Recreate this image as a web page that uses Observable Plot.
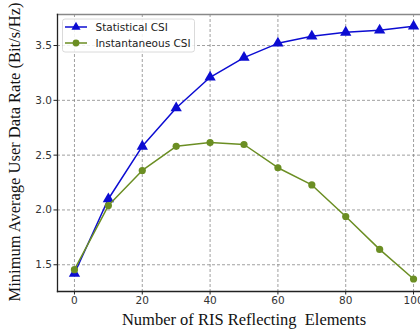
<!DOCTYPE html>
<html><head><meta charset="utf-8">
<script src="https://cdn.jsdelivr.net/npm/d3@7"></script>
<script src="https://cdn.jsdelivr.net/npm/@observablehq/plot@0.6"></script>
<style>
html,body{margin:0;padding:0;background:#fff;overflow:hidden;width:420px;height:332px;}
#chart svg{max-width:none !important;display:block;}
</style>
</head><body>
<div id="chart"></div>
<script>
const elements = [0, 10, 20, 30, 40, 50, 60, 70, 80, 90, 100];
const statistical = [1.42, 2.10, 2.58, 2.93, 3.21, 3.39, 3.52, 3.585, 3.62, 3.64, 3.676];
const instantaneous = [1.455, 2.04, 2.36, 2.58, 2.615, 2.597, 2.385, 2.228, 1.94, 1.64, 1.37];
const seriesNames = ["Statistical CSI", "Instantaneous CSI"];
const xTicks = [0, 20, 40, 60, 80, 100];
const yTicks = [1.5, 2.0, 2.5, 3.0, 3.5];
const xLabel = "Number of RIS Reflecting  Elements";
const yLabel = "Minimum Average User Data Rate (Bit/s/Hz)";

const blue = "#0c0cd2", green = "#6b8e23";
const stat = elements.map((x, i) => ({x, y: statistical[i]}));
const inst = elements.map((x, i) => ({x, y: instantaneous[i]}));

const W = 443, H = 332, ML = 57, MR = 13, MT = 14, MB = 41;
const plot = Plot.plot({
  width: W, height: H,
  marginLeft: ML, marginRight: MR, marginTop: MT, marginBottom: MB,
  style: {fontFamily: "DejaVu Sans", fontSize: "10px", color: "#222", background: "#fff", maxWidth: "none"},
  x: {domain: [-5, 105], ticks: xTicks, tickFormat: d => String(d), label: null},
  y: {domain: [1.256, 3.783], ticks: yTicks, tickFormat: d3.format(".1f"), label: null},
  marks: [
    Plot.gridX(xTicks, {stroke: "#888", strokeOpacity: 1, strokeDasharray: "3,2", strokeWidth: 0.8}),
    Plot.gridY(yTicks, {stroke: "#888", strokeOpacity: 1, strokeDasharray: "3,2", strokeWidth: 0.8}),
    Plot.axisX({ticks: xTicks, tickSize: 3.5, tickPadding: 2, label: null, fill: "#333", fontSize: 10.5}),
    Plot.axisY({ticks: yTicks, tickSize: 3.5, tickPadding: 2, label: null, fill: "#333", fontSize: 10.5, tickFormat: d3.format(".1f")}),
    Plot.frame({anchor: "top", stroke: "#888", strokeWidth: 1.5}),
    Plot.frame({anchor: "left", stroke: "#222", strokeWidth: 1.3}),
    Plot.frame({anchor: "bottom", stroke: "#222", strokeWidth: 1.3}),
    Plot.line(stat, {x: "x", y: "y", stroke: blue, strokeWidth: 1.5}),
    Plot.dot(stat, {x: "x", y: "y", symbol: "triangle", fill: blue, r: 4.2}),
    Plot.line(inst, {x: "x", y: "y", stroke: green, strokeWidth: 1.5}),
    Plot.dot(inst, {x: "x", y: "y", symbol: "circle", fill: green, r: 3.6})
  ]
});
document.getElementById("chart").appendChild(plot);

const svg = d3.select(plot);
// axis titles
svg.append("text").attr("x", 244).attr("y", 325).attr("text-anchor", "middle")
  .attr("font-family", "Liberation Serif").attr("font-size", 16.5).attr("fill", "#111").text(xLabel);
svg.append("text").attr("transform", "translate(20,152) rotate(-90)").attr("text-anchor", "middle")
  .attr("font-family", "Liberation Serif").attr("font-size", 16.5).attr("fill", "#111").text(yLabel);

// legend
const lg = svg.append("g").attr("transform", "translate(62.5,19)");
lg.append("rect").attr("x", 0).attr("y", 0).attr("width", 132).attr("height", 33).attr("rx", 2.5)
  .attr("fill", "white").attr("fill-opacity", 0.85).attr("stroke", "#d0d0d0").attr("stroke-width", 0.8);
const colors = [blue, green];
seriesNames.forEach((name, i) => {
  const yy = 8 + i * 16;
  lg.append("line").attr("x1", 2.5).attr("x2", 24.5).attr("y1", yy).attr("y2", yy).attr("stroke", colors[i]).attr("stroke-width", 1.5);
  if (i === 0) {
    lg.append("path").attr("d", d3.symbol(d3.symbolTriangle, 36)()).attr("transform", `translate(13.5,${yy})`).attr("fill", colors[i]);
  } else {
    lg.append("circle").attr("cx", 13.5).attr("cy", yy).attr("r", 3.4).attr("fill", colors[i]);
  }
  lg.append("text").attr("x", 33).attr("y", yy).attr("dy", "0.35em").attr("text-anchor", "start").attr("font-family", "DejaVu Sans")
    .attr("font-size", 10.5).attr("fill", "#222").text(name);
});
</script>
</body></html>
